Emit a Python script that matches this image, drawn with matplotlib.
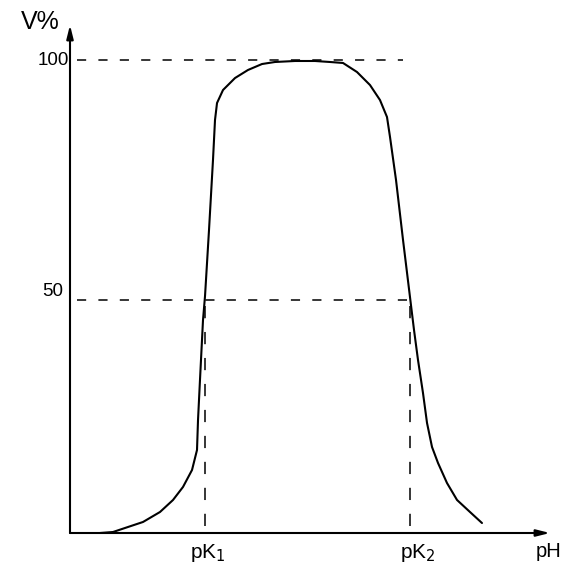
"""Courbe V% en fonction du pH, avec pK1 et pK2"""

import matplotlib
matplotlib.use("Agg")
import matplotlib.pyplot as plt

ph = [6.25, 8.96, 11.46, 15.21, 18.75, 21.46, 23.54, 25.42, 26.46, 26.67,
      27.08, 27.71, 28.13, 28.96, 29.79, 30.21, 30.63, 31.88, 34.38, 37.08,
      40.0, 42.71, 46.88, 51.04, 54.17, 56.88, 59.79, 62.5, 64.58, 66.04,
      66.67, 67.92, 69.38, 70.83, 71.67, 72.5, 73.54, 74.38, 75.42, 76.67,
      78.54, 80.63, 83.33, 85.83]
v_pct = [0.0, 0.21, 1.06, 2.33, 4.44, 6.98, 9.73, 13.32, 17.55, 23.89,
         32.35, 45.03, 50.1, 64.06, 78.86, 87.32, 90.91, 93.66, 96.19, 97.89,
         99.15, 99.58, 99.79, 99.79, 99.58, 99.37, 97.46, 94.71, 91.54, 87.95,
         83.72, 74.63, 61.95, 49.89, 42.92, 36.58, 29.6, 23.26, 18.18, 14.8,
         10.57, 6.98, 4.44, 2.11]

pk1 = 28.1
pk2 = 70.8
y_ticks = [50, 100]
y_labels = ["50", "100"]
x_labels = ["pK$_1$", "pK$_2$"]

plt.rcParams["font.family"] = ["Liberation Sans", "DejaVu Sans"]

fig = plt.figure(figsize=(5.82, 5.75), dpi=100)
ax = fig.add_axes([70 / 582, 1 - 533 / 575, 480 / 582, 508 / 575])
ax.set_xlim(0, 100)
ax.set_ylim(0, 107.4)
ax.axis("off")

# Courbe
ax.plot(ph, v_pct, color="black", lw=1.5, solid_capstyle="round",
        solid_joinstyle="round")

# Lignes pointillées
dash = (0, (6, 8))
ax.plot([1.5, 69.4], [100, 100], color="black", lw=1.1, linestyle=dash)
ax.plot([1.5, pk2], [49.3, 49.3], color="black", lw=1.1, linestyle=dash)
ax.plot([pk1, pk1], [1.5, 49.3], color="black", lw=1.1, linestyle=(0, (8, 9)))
ax.plot([pk2, pk2], [1.5, 49.3], color="black", lw=1.1, linestyle=(0, (8, 9)))

# Axes avec flèches
arrow = dict(arrowstyle="-|>,head_length=0.8,head_width=0.2", color="black",
             lw=1.5, shrinkA=0, shrinkB=0)
ax.annotate("", xy=(100, 0), xytext=(0, 0), arrowprops=arrow,
            annotation_clip=False)
ax.annotate("", xy=(0, 107.4), xytext=(0, 0), arrowprops=arrow,
            annotation_clip=False)

# Textes
ax.text(-0.2, 100, y_labels[1], ha="right", va="center", fontsize=13.5)
ax.text(-1.5, 51, y_labels[0], ha="right", va="center", fontsize=13.5)
ax.text(28.8, -2.0, x_labels[0], ha="center", va="top", fontsize=15)
ax.text(72.5, -2.0, x_labels[1], ha="center", va="top", fontsize=15)
ax.text(99.6, -2.0, "pH", ha="center", va="top", fontsize=14.5)
ax.text(-6.25, 108.0, "V%", ha="center", va="center", fontsize=18)

fig.savefig("out.png", dpi=100)
plt.close(fig)
